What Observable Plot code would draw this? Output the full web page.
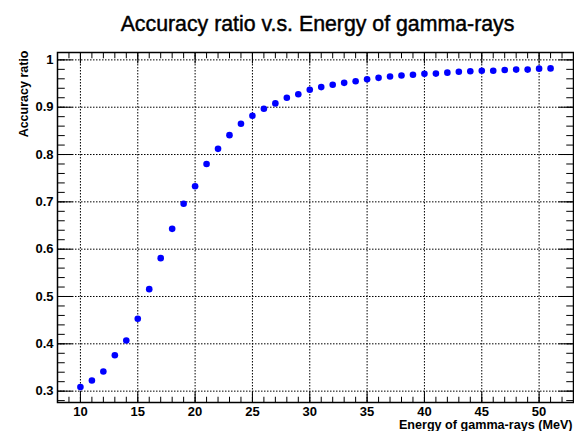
<!DOCTYPE html>
<html>
<head>
<meta charset="utf-8">
<script src="https://cdn.jsdelivr.net/npm/d3@7"></script>
<script src="https://cdn.jsdelivr.net/npm/@observablehq/plot@0.6"></script>
<style>
  html, body { margin: 0; padding: 0; background: #fff; }
</style>
</head>
<body>
<div id="chart"></div>
<script>
const energy = [10, 11, 12, 13, 14, 15, 16, 17, 18, 19, 20, 21, 22, 23, 24, 25, 26, 27, 28, 29, 30,
  31, 32, 33, 34, 35, 36, 37, 38, 39, 40, 41, 42, 43, 44, 45, 46, 47, 48, 49, 50, 51];
const accuracy = [0.3085, 0.3226, 0.3416, 0.376, 0.407, 0.453, 0.5155, 0.581, 0.643, 0.696, 0.733,
  0.780, 0.812, 0.841, 0.865, 0.882, 0.8966, 0.908, 0.920, 0.9275, 0.9368,
  0.9425, 0.9473, 0.9515, 0.955, 0.959, 0.962, 0.965, 0.967, 0.9685, 0.9705,
  0.971, 0.973, 0.975, 0.976, 0.977, 0.977, 0.9785, 0.9795, 0.9795, 0.9815, 0.982];
const xMajor = [10, 15, 20, 25, 30, 35, 40, 45, 50];
const xMinor = d3.range(8, 54, 1);
const yMajor = [0.3, 0.4, 0.5, 0.6, 0.7, 0.8, 0.9, 1.0];
const yMinor = d3.range(14, 51).map(i => i * 0.02);
const title = "Accuracy ratio v.s. Energy of gamma-rays";
const xTitle = "Energy of gamma-rays (MeV)";
const yTitle = "Accuracy ratio";

const points = energy.map((e, i) => ({energy: e, accuracy: accuracy[i]}));
const font = "'Liberation Sans', Arial, Helvetica, sans-serif";

const chart = Plot.plot({
  width: 574,
  height: 431,
  marginLeft: 57,
  marginRight: 1,
  marginTop: 52,
  marginBottom: 29,
  style: {fontFamily: font, fontSize: "13px", fontWeight: "bold", color: "black", background: "white"},
  x: {domain: [8, 53]},
  y: {domain: [0.276, 1.0156]},
  marks: [
    Plot.gridX(xMajor, {stroke: "black", strokeOpacity: 1, strokeDasharray: "1.5,1.5"}),
    Plot.gridY(yMajor, {stroke: "black", strokeOpacity: 1, strokeDasharray: "1.5,1.5"}),
    // inward ticks
    Plot.axisX(xMajor, {anchor: "bottom", tickSize: -10.5, fill: "none", label: null}),
    Plot.axisX(xMinor, {anchor: "bottom", tickSize: -5.25, fill: "none", label: null}),
    Plot.axisX(xMajor, {anchor: "top", tickSize: -10.5, fill: "none", label: null}),
    Plot.axisX(xMinor, {anchor: "top", tickSize: -5.25, fill: "none", label: null}),
    Plot.axisY(yMajor, {anchor: "left", tickSize: -15.5, fill: "none", label: null}),
    Plot.axisY(yMinor, {anchor: "left", tickSize: -7.75, fill: "none", label: null}),
    Plot.axisY(yMajor, {anchor: "right", tickSize: -15.5, fill: "none", label: null}),
    Plot.axisY(yMinor, {anchor: "right", tickSize: -7.75, fill: "none", label: null}),
    // tick labels
    Plot.axisX(xMajor, {anchor: "bottom", tickSize: 0, tickPadding: 4.5, fontSize: 13, fontWeight: "bold", label: null}),
    Plot.axisY(yMajor, {anchor: "left", tickSize: 0, tickPadding: 4, fontSize: 13, fontWeight: "bold", label: null,
      tickFormat: d => String(+d.toFixed(1))}),
    Plot.frame({stroke: "black", strokeWidth: 1.5}),
    Plot.dot(points, {x: "energy", y: "accuracy", r: 3.3, fill: "#0000ff", stroke: "none"}),
    // titles
    Plot.text([title], {frameAnchor: "top", lineAnchor: "bottom", dx: 2, dy: -22, fontSize: 21.3, fontWeight: "normal",
      fill: "black", stroke: "black", strokeWidth: 0.45}),
    Plot.text([xTitle], {frameAnchor: "bottom-right", textAnchor: "end", lineAnchor: "bottom", dy: 26, dx: -1, fontSize: 12.6, fontWeight: "bold"}),
    Plot.text([yTitle], {frameAnchor: "top-left", textAnchor: "end", rotate: -90, dx: -38, dy: -2, fontSize: 12.5, fontWeight: "bold"})
  ]
});
document.getElementById("chart").appendChild(chart);
</script>
</body>
</html>
